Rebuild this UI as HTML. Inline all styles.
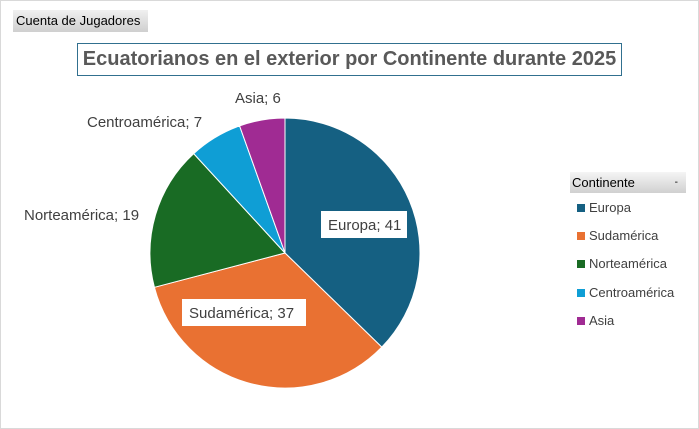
<!DOCTYPE html>
<html><head><meta charset="utf-8"><style>
body{margin:0;width:699px;height:429px;overflow:hidden;background:#fff;font-family:"Liberation Sans",sans-serif}
.frame{position:absolute;left:0;top:0;width:697px;height:427px;border:1px solid #d9d9d9}
.btn{position:absolute;left:13px;top:10px;width:135px;height:22px;background:linear-gradient(#f0f0f0,#cfcfcf);font-size:13px;line-height:22px;padding-left:3px;box-sizing:border-box;color:#000}
.title{position:absolute;left:77px;top:43px;width:545px;height:33px;border:1px solid #31708f;box-sizing:border-box;font-weight:bold;font-size:20px;color:#595959;text-align:center;line-height:31px}
.leg{position:absolute;left:570px;top:172px;width:116px;height:21px;background:linear-gradient(#f5f5f5,#d0d0d0);font-size:13px;line-height:21px;padding-left:2px;box-sizing:border-box}
.li{position:absolute;left:577px;font-size:13px;color:#404040}
.li span{display:inline-block;width:8px;height:8px;margin-right:4px}
</style></head><body>
<div class="frame"></div>
<div class="btn">Cuenta de Jugadores</div>
<div class="title">Ecuatorianos en el exterior por Continente durante 2025</div>
<svg width="699" height="429" style="position:absolute;left:0;top:0">
<g stroke="#fff" stroke-width="1">
<path d="M285,253 L285,118 A135,135 0 0 1 381.8,347.1 Z" fill="#156082"/>
<path d="M285,253 L381.8,347.1 A135,135 0 0 1 154.4,287.3 Z" fill="#e97132"/>
<path d="M285,253 L154.4,287.3 A135,135 0 0 1 193.7,153.6 Z" fill="#196b24"/>
<path d="M285,253 L193.7,153.6 A135,135 0 0 1 239.6,125.9 Z" fill="#0f9ed5"/>
<path d="M285,253 L239.6,125.9 A135,135 0 0 1 285,118 Z" fill="#a02b93"/>
</g>
<rect x="321" y="211" width="86" height="27" fill="#fff"/>
<rect x="182" y="299" width="124" height="27" fill="#fff"/>
<g font-family="Liberation Sans" font-size="15" fill="#404040">
<text x="328" y="230">Europa; 41</text>
<text x="189" y="318">Sudamérica; 37</text>
<text x="24" y="220">Norteamérica; 19</text>
<text x="87" y="127">Centroamérica; 7</text>
<text x="235" y="103">Asia; 6</text>
</g>
</svg>
<div class="leg">Continente<span style="position:absolute;right:8px;font-size:10px">-</span></div>
<div class="li" style="top:200px"><span style="background:#156082"></span>Europa</div>
<div class="li" style="top:228px"><span style="background:#e97132"></span>Sudamérica</div>
<div class="li" style="top:256px"><span style="background:#196b24"></span>Norteamérica</div>
<div class="li" style="top:285px"><span style="background:#0f9ed5"></span>Centroamérica</div>
<div class="li" style="top:313px"><span style="background:#a02b93"></span>Asia</div>
</body></html>
